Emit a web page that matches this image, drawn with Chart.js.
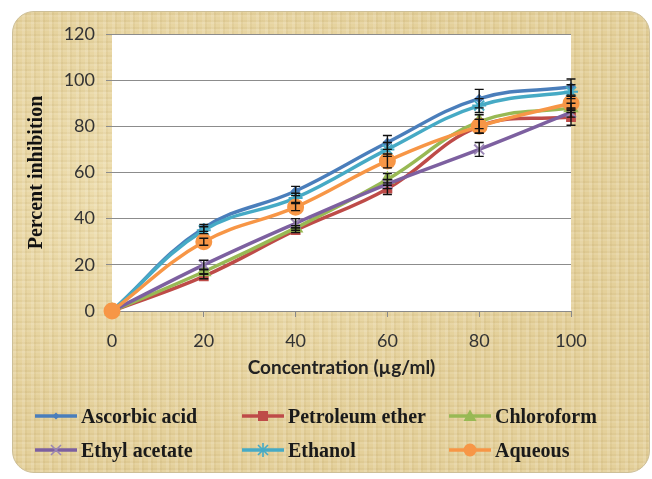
<!DOCTYPE html>
<html>
<head>
<meta charset="utf-8">
<script src="https://cdn.jsdelivr.net/npm/chart.js@4.4.1/dist/chart.umd.min.js"></script>
<style>
  html, body { margin: 0; padding: 0; background: #fff; }
  #wrap { position: relative; width: 652px; height: 479px; overflow: hidden; }
  /* parchment panel behind the chart */
  #panel {
    position: absolute; left: 12px; top: 11px; width: 636px; height: 460px;
    border-radius: 22px; border: 1px solid #cdbf98;
    background-color: #e4d09a;
    background-image:
      repeating-linear-gradient(90deg, rgba(255,255,255,0.12) 0 3px, rgba(160,130,60,0.08) 3px 5px, rgba(255,255,255,0) 5px 9px),
      repeating-linear-gradient(0deg, rgba(255,255,255,0.08) 0 2px, rgba(150,120,50,0.07) 2px 4px, rgba(255,255,255,0) 4px 7px),
      radial-gradient(ellipse at 30% 40%, rgba(255,245,210,0.45), rgba(255,245,210,0) 60%);
  }
  canvas { position: absolute; left: 0; top: 0; }
  .lg { position: absolute; display: flex; align-items: center; height: 26px;
        font-family: "Liberation Serif", "Times New Roman", serif; font-weight: bold;
        font-size: 20px; color: #1a1a1a; white-space: nowrap; }
  .lg svg { margin-right: 4px; }
</style>
</head>
<body>
<div id="wrap">
  <div id="panel"></div>
  <canvas id="c" width="652" height="479"></canvas>
  <div id="legend"></div>
</div>
<script>
// concentration (µg/ml)
const concentrations = [0, 20, 40, 60, 80, 100];
const yTicks = [0, 20, 40, 60, 80, 100, 120];

// percent inhibition per extract
const ascorbicAcid   = [0, 36, 52, 73, 92, 97];
const petroleumEther = [0, 15, 35, 53, 80, 84];
const chloroform     = [0, 17, 36, 57, 82, 88];
const ethylAcetate   = [0, 20, 38, 55, 70, 86];
const ethanol        = [0, 35, 49, 70, 89, 95];
const aqueous        = [0, 30, 45, 65, 80, 90];

// error bar half-widths (+/-)
const ascorbicErr  = [0, 1.5, 2, 3, 4, 3.5];
const petroleumErr = [0, 1, 1, 2.5, 3, 3.5];
const chloroErr    = [0, 1, 1, 2.5, 3, 2];
const ethylErr     = [0, 2, 2, 2, 3, 2];
const ethanolErr   = [0, 1.5, 2, 3, 3, 3];
const aqueousErr   = [0, 1.5, 1.5, 3, 3, 3];

const seriesNames = ['Ascorbic acid', 'Petroleum ether', 'Chloroform', 'Ethyl acetate', 'Ethanol', 'Aqueous'];

const TICK_FONT = { family: 'Lato', size: 18 };

function makeSet(label, values, errors, color, style, radius, markerColor) {
    return {
        label: label,
        data: concentrations.map((x, i) => ({ x: x, y: values[i] })),
        errors: errors,
        borderColor: color,
        backgroundColor: markerColor || color,
        pointBackgroundColor: markerColor || color,
        pointBorderColor: markerColor || color,
        pointBorderWidth: 2,
        pointStyle: style,
        pointRadius: radius,
        borderWidth: 3.5,
        tension: 0.4,
        clip: false
    };
}

const datasets = [
    makeSet(seriesNames[0], ascorbicAcid, ascorbicErr, '#4a7ebb', 'rectRot', 3.5),
    makeSet(seriesNames[1], petroleumEther, petroleumErr, '#be4b48', 'rect', 5.5),
    makeSet(seriesNames[2], chloroform, chloroErr, '#98b954', 'triangle', 7),
    makeSet(seriesNames[3], ethylAcetate, ethylErr, '#7d60a0', 'crossRot', 7, '#9a86b4'),
    makeSet(seriesNames[4], ethanol, ethanolErr, '#46aac5', 'star', 7),
    makeSet(seriesNames[5], aqueous, aqueousErr, '#f79646', 'circle', 7.5)
];
// later series drawn on top, as in the original
datasets.forEach((d, i) => { d.order = datasets.length - i; });

const plotBackground = {
    id: 'plotBackground',
    beforeDraw(chart) {
        const { ctx, chartArea: a } = chart;
        ctx.save();
        ctx.fillStyle = '#ffffff';
        ctx.fillRect(a.left, a.top, a.right - a.left, a.bottom - a.top);
        ctx.restore();
    }
};

const errorBars = {
    id: 'errorBars',
    afterDatasetsDraw(chart) {
        const { ctx, scales: { x, y } } = chart;
        ctx.save();
        ctx.strokeStyle = '#111';
        ctx.lineWidth = 1.4;
        chart.data.datasets.forEach((ds) => {
            ds.data.forEach((p, i) => {
                const e = ds.errors[i];
                if (!e) return;
                const px = x.getPixelForValue(p.x);
                const top = y.getPixelForValue(p.y + e);
                const bot = y.getPixelForValue(p.y - e);
                ctx.beginPath();
                ctx.moveTo(px, top); ctx.lineTo(px, bot);
                ctx.moveTo(px - 4.5, top); ctx.lineTo(px + 4.5, top);
                ctx.moveTo(px - 4.5, bot); ctx.lineTo(px + 4.5, bot);
                ctx.stroke();
            });
        });
        ctx.restore();
    }
};

new Chart(document.getElementById('c'), {
    type: 'line',
    data: { datasets: datasets },
    options: {
        responsive: false,
        animation: false,
        layout: { padding: { left: 0, top: 34, right: 81, bottom: 0 } },
        plugins: { legend: { display: false }, tooltip: { enabled: false } },
        scales: {
            x: {
                type: 'linear',
                min: 0, max: 100,
                afterBuildTicks: (s) => { s.ticks = concentrations.map(v => ({ value: v })); },
                afterFit: (s) => { s.height = 168; },
                ticks: { font: TICK_FONT, color: '#333', padding: 13, maxRotation: 0 },
                grid: { drawOnChartArea: false, drawTicks: true, tickLength: 6, color: '#8a8a8a' },
                border: { display: true, color: '#8a8a8a' },
                title: {
                    display: true,
                    text: 'Concentration (µg/ml)',
                    font: { family: 'Lato', size: 19, weight: 'bold' },
                    color: '#222',
                    padding: { top: 0, bottom: 100 }
                }
            },
            y: {
                min: 0, max: 120,
                afterBuildTicks: (s) => { s.ticks = yTicks.map(v => ({ value: v })); },
                afterFit: (s) => { s.width = 112; },
                ticks: { font: TICK_FONT, color: '#333', padding: 11 },
                grid: { color: '#8c8c8c', lineWidth: 1, tickLength: 6 },
                border: { display: false },
                title: {
                    display: true,
                    text: 'Percent inhibition',
                    font: { family: 'Liberation Serif', size: 20, weight: 'bold' },
                    color: '#111',
                    padding: { top: 25, bottom: 0 }
                }
            }
        }
    },
    plugins: [plotBackground, errorBars]
});

// legend in two rows of three, drawn as html
function markerSvg(ds) {
    const c = ds.pointBackgroundColor, lc = ds.borderColor;
    let m = '';
    switch (ds.pointStyle) {
        case 'rectRot': m = `<polygon points="21,3.5 24.5,7 21,10.5 17.5,7" fill="${c}"/>`; break;
        case 'rect': m = `<rect x="16" y="2" width="10" height="10" fill="${c}"/>`; break;
        case 'triangle': m = `<polygon points="21,0.5 27.5,12 14.5,12" fill="${c}"/>`; break;
        case 'crossRot': m = `<path d="M16,2 L26,12 M26,2 L16,12" stroke="${c}" stroke-width="1.6"/>`; break;
        case 'star': m = `<path d="M16,2 L26,12 M26,2 L16,12 M21,0 L21,14" stroke="${c}" stroke-width="1.6"/>`; break;
        case 'circle': m = `<circle cx="21" cy="7" r="6.5" fill="${c}"/>`; break;
    }
    return `<svg width="42" height="14" viewBox="0 0 42 14"><line x1="0" y1="7" x2="42" y2="7" stroke="${lc}" stroke-width="3.5"/>${m}</svg>`;
}

const legendCols = [35, 242, 449];
const legendRows = [403, 437];
const legendEl = document.getElementById('legend');
datasets.forEach((ds, i) => {
    const div = document.createElement('div');
    div.className = 'lg';
    div.style.left = legendCols[i % 3] + 'px';
    div.style.top = legendRows[Math.floor(i / 3)] + 'px';
    div.innerHTML = markerSvg(ds) + '<span>' + ds.label + '</span>';
    legendEl.appendChild(div);
});
</script>
</body>
</html>
